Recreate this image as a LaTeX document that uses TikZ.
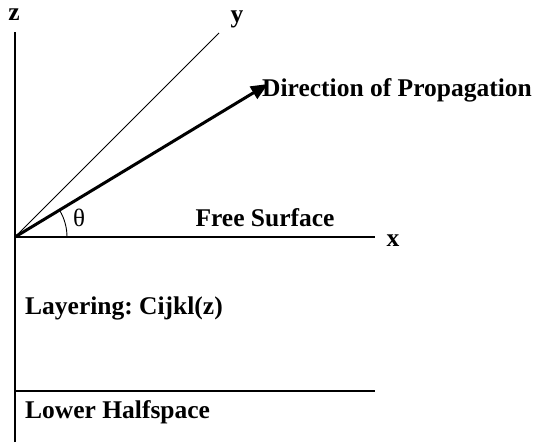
\documentclass[tikz,border=0pt]{standalone}
\usepackage{fontspec}
\setmainfont{Liberation Serif}
\usetikzlibrary{arrows.meta, positioning, calc}
\frenchspacing

\begin{document}
\begin{tikzpicture}[
  x=1pt, y=1pt,
  axis/.style={draw=black, line width=1.3pt},
  thinaxis/.style={draw=black, line width=0.9pt},
  propArr/.style={-{Triangle[length=17pt, width=14pt]}, line width=3pt},
  lbl/.style={font=\fontsize{25.5}{28}\selectfont\bfseries, inner sep=0pt},
  lblL/.style={lbl, anchor=west}
]
  \useasboundingbox (0,0) rectangle (540,442);

  % Axes
  \coordinate (O) at (15,205);
  \coordinate (zTop) at (15,410);
  \coordinate (zBot) at (15,0);
  \coordinate (xEnd) at (375,205);
  \coordinate (yEnd) at (219,409);
  \coordinate (pEnd) at (268,358);

  \draw[axis] (zBot) -- (zTop);
  \draw[axis] (O) -- (xEnd);
  \draw[thinaxis] (O) -- (yEnd);
  \draw[propArr] (O) -- (pEnd);

  % Angle
  \draw[thinaxis] ($(O)+(52,0)$) arc[start angle=0, end angle=31, radius=52];

  % Lower halfspace boundary
  \coordinate (hsL) at (15,51);
  \coordinate (hsR) at (375,51);
  \draw[axis] (hsL) -- (hsR);

  % Labels
  \node[lbl] (zLbl) at (14,427) {z};
  \node[lbl] (yLbl) at (237,423) {y};
  \node[lbl] (xLbl) at (393,201) {x};
  \node[lblL] (dirLbl) at (262,352) {Direction of Propagation};
  \node[inner sep=0pt, font=\fontsize{25}{28}\selectfont] (thLbl) at (79,224) {θ};
  \node[lbl] (fsLbl) at (265,224) {Free Surface};
  \node[lblL] (layLbl) at (25,134) {Layering: Cijkl(z)};
  \node[lblL] (hsLbl) at (25,30) {Lower Halfspace};
\end{tikzpicture}
\end{document}
